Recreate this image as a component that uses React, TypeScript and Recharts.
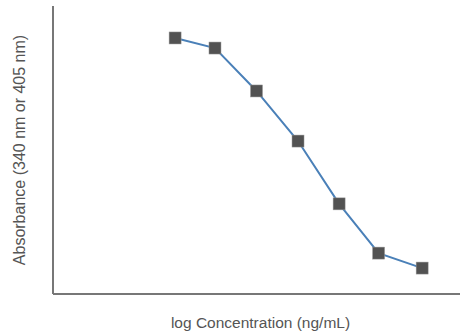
import { LineChart, Line, XAxis, YAxis } from "recharts";

const logConc = [3.0, 3.98, 5.0, 6.02, 7.03, 8.0, 9.07];
const absorbance = [0.889, 0.854, 0.705, 0.531, 0.313, 0.142, 0.09];

const data = logConc.map((x, i) => ({ x, y: absorbance[i] }));

const SquareDot = (props: any) => {
  const { cx, cy, index } = props;
  if (cx == null || cy == null) return null;
  return (
    <rect
      key={`sq-${index}`}
      x={cx - 6}
      y={cy - 6}
      width={12}
      height={12}
      fill="#525252"
      stroke="#9a9a9a"
      strokeWidth={0.5}
    />
  );
};

export default function App() {
  return (
    <div
      style={{
        position: "absolute",
        left: 0,
        top: 0,
        width: 460,
        height: 331,
        background: "#fff",
        fontFamily: "'Liberation Sans', Arial, sans-serif",
      }}
    >
      <LineChart
        width={460}
        height={331}
        data={data}
        margin={{ top: 6, right: 0, left: 0, bottom: 0 }}
      >
        <XAxis
          dataKey="x"
          type="number"
          domain={[0, 10]}
          tick={false}
          tickLine={false}
          height={37}
          axisLine={{ stroke: "#777", strokeWidth: 2 }}
          label={{
            value: "log Concentration (ng/mL)",
            position: "insideBottom",
            offset: 3,
            dx: 4,
            fill: "#555",
            fontSize: 15.5,
          }}
        />
        <YAxis
          type="number"
          domain={[0, 1]}
          tick={false}
          tickLine={false}
          width={53}
          axisLine={{ stroke: "#777", strokeWidth: 2 }}
          label={{
            value: "Absorbance (340 nm or 405 nm)",
            angle: -90,
            position: "insideLeft",
            offset: 19,
            fill: "#555",
            fontSize: 16,
            style: { textAnchor: "middle" },
          }}
        />
        <Line
          type="linear"
          dataKey="y"
          stroke="#4a80b8"
          strokeWidth={2}
          dot={SquareDot}
          activeDot={false}
          isAnimationActive={false}
        />
      </LineChart>
    </div>
  );
}
